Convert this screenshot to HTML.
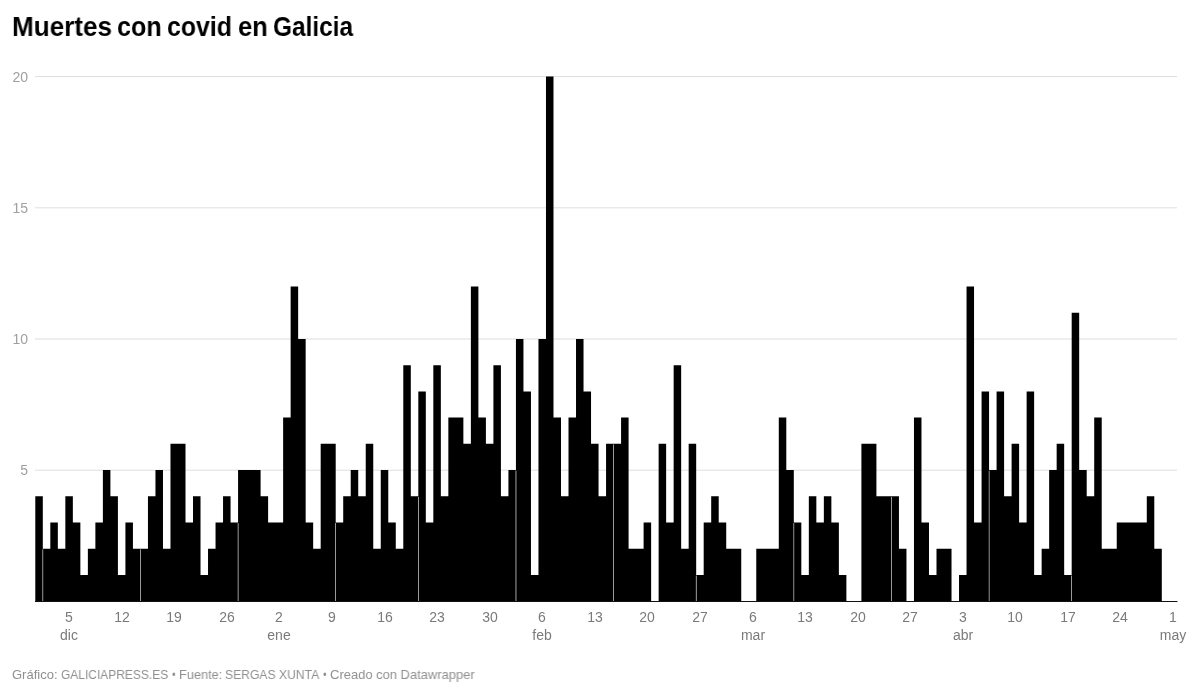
<!DOCTYPE html>
<html><head><meta charset="utf-8">
<style>
html,body{margin:0;padding:0;background:#fff;}
body{width:1199px;height:695px;position:relative;overflow:hidden;font-family:"Liberation Sans",sans-serif;}
.title{position:absolute;left:11.6px;top:14.145px;font-size:27px;font-weight:bold;color:#000;white-space:nowrap;line-height:1;transform:scaleX(0.952);transform-origin:0 0;}
.yl{position:absolute;left:-12.1px;width:40px;text-align:right;font-size:14px;line-height:1;color:#a0a0a0;}
.xl{position:absolute;width:80px;text-align:center;font-size:14px;line-height:1;color:#7a7a7a;}
.foot{position:absolute;left:11px;top:668.495px;font-size:13px;line-height:1;color:#8f8f8f;white-space:nowrap;transform:scaleX(0.96);transform-origin:0 0;}
svg{position:absolute;left:0;top:0;}
.title,.yl,.xl,.foot{will-change:transform;}
</style></head><body>
<svg width="1199" height="695" viewBox="0 0 1199 695">
<rect x="35" y="469.7" width="1142" height="1" fill="#dedede"/>
<rect x="35" y="338.5" width="1142" height="1" fill="#dedede"/>
<rect x="35" y="207.3" width="1142" height="1" fill="#dedede"/>
<rect x="35" y="76.1" width="1142" height="1" fill="#dedede"/>
<path d="M35.3,601.7V496.34H42.81V548.82H50.32V522.58H57.83V548.82H65.34V496.34H72.85V522.58H80.36V575.06H87.87V548.82H95.38V522.58H102.89V470.1H110.4V496.34H117.91V575.06H125.42V522.58H132.93V548.82H140.44V548.82H147.95V496.34H155.46V470.1H162.97V548.82H170.48V443.86H177.99V443.86H185.5V522.58H193.01V496.34H200.52V575.06H208.03V548.82H215.54V522.58H223.05V496.34H230.56V522.58H238.07V470.1H245.58V470.1H253.09V470.1H260.6V496.34H268.11V522.58H275.62V522.58H283.13V417.62H290.64V286.42H298.15V338.9H305.66V522.58H313.17V548.82H320.68V443.86H328.19V443.86H335.7V522.58H343.21V496.34H350.72V470.1H358.23V496.34H365.74V443.86H373.25V548.82H380.76V470.1H388.27V522.58H395.78V548.82H403.29V365.14H410.8V496.34H418.31V391.38H425.82V522.58H433.33V365.14H440.84V496.34H448.35V417.62H455.86V417.62H463.37V443.86H470.88V286.42H478.39V417.62H485.9V443.86H493.41V365.14H500.92V496.34H508.43V470.1H515.94V338.9H523.45V391.38H530.96V575.06H538.47V338.9H545.98V76.5H553.49V417.62H561V496.34H568.51V417.62H576.02V338.9H583.53V391.38H591.04V443.86H598.55V496.34H606.06V443.86H613.57V443.86H621.08V417.62H628.59V548.82H636.1V548.82H643.61V522.58H651.12V601.3H658.63V443.86H666.14V522.58H673.65V365.14H681.16V548.82H688.67V443.86H696.18V575.06H703.69V522.58H711.2V496.34H718.71V522.58H726.22V548.82H733.73V548.82H741.24V601.3H748.75V601.3H756.26V548.82H763.77V548.82H771.28V548.82H778.79V417.62H786.3V470.1H793.81V522.58H801.32V575.06H808.83V496.34H816.34V522.58H823.85V496.34H831.36V522.58H838.87V575.06H846.38V601.3H853.89V601.3H861.4V443.86H868.91V443.86H876.42V496.34H883.93V496.34H891.44V496.34H898.95V548.82H906.46V601.3H913.97V417.62H921.48V522.58H928.99V575.06H936.5V548.82H944.01V548.82H951.52V601.3H959.03V575.06H966.54V286.42H974.05V522.58H981.56V391.38H989.07V470.1H996.58V391.38H1004.09V496.34H1011.6V443.86H1019.11V522.58H1026.62V391.38H1034.13V575.06H1041.64V548.82H1049.15V470.1H1056.66V443.86H1064.17V575.06H1071.68V312.66H1079.19V470.1H1086.7V496.34H1094.21V417.62H1101.72V548.82H1109.23V548.82H1116.74V522.58H1124.25V522.58H1131.76V522.58H1139.27V522.58H1146.78V496.34H1154.29V548.82H1161.8V601.7Z" fill="#000"/>
<rect x="42" y="549.32" width="1" height="51.98" fill="#777"/><rect x="43" y="549.32" width="1" height="51.98" fill="#222"/>
<rect x="140" y="549.32" width="1" height="51.98" fill="#999"/>
<rect x="237" y="523.08" width="1" height="78.22" fill="#333"/><rect x="238" y="523.08" width="1" height="78.22" fill="#666"/>
<rect x="335" y="523.08" width="1" height="78.22" fill="#999"/>
<rect x="418" y="496.84" width="1" height="104.46" fill="#999"/>
<rect x="515" y="470.6" width="1" height="130.7" fill="#5a5a5a"/><rect x="516" y="470.6" width="1" height="130.7" fill="#4a4a4a"/>
<rect x="613" y="444.36" width="1" height="156.94" fill="#999"/>
<rect x="695" y="575.56" width="1" height="25.74" fill="#1a1a1a"/><rect x="696" y="575.56" width="1" height="25.74" fill="#858585"/>
<rect x="793" y="523.08" width="1" height="78.22" fill="#707070"/><rect x="794" y="523.08" width="1" height="78.22" fill="#222"/>
<rect x="891" y="496.84" width="1" height="104.46" fill="#999"/>
<rect x="988" y="470.6" width="1" height="130.7" fill="#2a2a2a"/><rect x="989" y="470.6" width="1" height="130.7" fill="#666"/>
<rect x="1071" y="575.56" width="1" height="25.74" fill="#999"/>
<rect x="35" y="601" width="1142.5" height="1" fill="#111"/>
</svg>
<div class="title" style="left:11.75px;transform:scaleX(0.9657)">Muertes</div><div class="title" style="left:116.95px;transform:scaleX(0.9306)">con</div><div class="title" style="left:167.06px;transform:scaleX(0.921)">covid</div><div class="title" style="left:237.64px;transform:scaleX(0.9453)">en</div><div class="title" style="left:273.44px;transform:scaleX(0.904)">Galicia</div>
<div class="yl" style="top:463.249px">5</div>
<div class="yl" style="top:332.049px">10</div>
<div class="yl" style="top:200.849px">15</div>
<div class="yl" style="top:69.649px">20</div>
<div class="xl" style="left:29.095px;top:609.849px">5</div>
<div class="xl" style="left:29.095px;top:627.849px">dic</div>
<div class="xl" style="left:81.665px;top:609.849px">12</div>
<div class="xl" style="left:134.235px;top:609.849px">19</div>
<div class="xl" style="left:186.805px;top:609.849px">26</div>
<div class="xl" style="left:239.375px;top:609.849px">2</div>
<div class="xl" style="left:239.375px;top:627.849px">ene</div>
<div class="xl" style="left:291.945px;top:609.849px">9</div>
<div class="xl" style="left:344.515px;top:609.849px">16</div>
<div class="xl" style="left:397.085px;top:609.849px">23</div>
<div class="xl" style="left:449.655px;top:609.849px">30</div>
<div class="xl" style="left:502.225px;top:609.849px">6</div>
<div class="xl" style="left:502.225px;top:627.849px">feb</div>
<div class="xl" style="left:554.795px;top:609.849px">13</div>
<div class="xl" style="left:607.365px;top:609.849px">20</div>
<div class="xl" style="left:659.935px;top:609.849px">27</div>
<div class="xl" style="left:712.505px;top:609.849px">6</div>
<div class="xl" style="left:712.505px;top:627.849px">mar</div>
<div class="xl" style="left:765.075px;top:609.849px">13</div>
<div class="xl" style="left:817.645px;top:609.849px">20</div>
<div class="xl" style="left:870.215px;top:609.849px">27</div>
<div class="xl" style="left:922.785px;top:609.849px">3</div>
<div class="xl" style="left:922.785px;top:627.849px">abr</div>
<div class="xl" style="left:975.355px;top:609.849px">10</div>
<div class="xl" style="left:1027.925px;top:609.849px">17</div>
<div class="xl" style="left:1080.495px;top:609.849px">24</div>
<div class="xl" style="left:1133.065px;top:609.849px">1</div>
<div class="xl" style="left:1133.065px;top:627.849px">may</div>
<div class="foot" style="left:11.81px;transform:scaleX(0.995)">Gráfico:</div><div class="foot" style="left:60.66px;transform:scaleX(0.9213)">GALICIAPRESS.ES</div><div class="foot" style="left:171.64px;transform:scaleX(0.8)">•</div><div class="foot" style="left:178.94px;transform:scaleX(0.9802)">Fuente:</div><div class="foot" style="left:224.96px;transform:scaleX(0.9342)">SERGAS XUNTA</div><div class="foot" style="left:323.31px;transform:scaleX(0.8)">•</div><div class="foot" style="left:330.1px;transform:scaleX(0.9958)">Creado con Datawrapper</div>
</body></html>
